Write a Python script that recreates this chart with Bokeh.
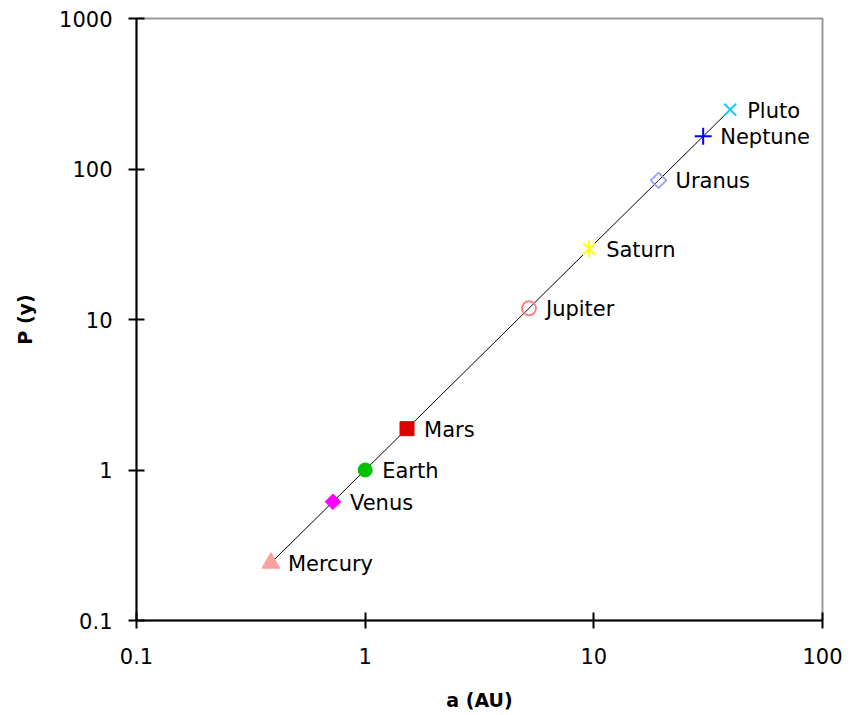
from bokeh.plotting import figure
from bokeh.models import ColumnDataSource, FixedTicker, Range1d
from bokeh.embed import file_html
from bokeh.resources import INLINE
from bokeh.core.properties import value
import math

planets = ["Mercury", "Venus", "Earth", "Mars", "Jupiter", "Saturn", "Uranus", "Neptune", "Pluto"]
a_au = [0.387, 0.723, 1.0, 1.524, 5.203, 9.537, 19.19, 30.07, 39.48]
p_yr = [0.241, 0.615, 1.0, 1.881, 11.86, 29.46, 84.01, 164.8, 248.0]
markers = ["triangle", "square", "circle", "square", "circle", "x", "square", "cross", "x"]
angles = [0, 45, 0, 0, 0, 0, 45, 0, 0]
colors = ["#ffa0a0", "#ff00ff", "#00c000", "#dd0000", "#ff8080", "#ffff00", "#a0a0ff", "#0000ff", "#00ccff"]
filled = [True, True, True, True, False, False, False, False, False]
x_ticks = [0.1, 1, 10, 100]
y_ticks = [0.1, 1, 10, 100, 1000]

FONT = "DejaVu Sans"

p = figure(width=850, height=712, x_axis_type="log", y_axis_type="log",
           x_range=Range1d(0.1, 100), y_range=Range1d(0.1, 1000),
           output_backend="svg", toolbar_location=None,
           min_border_left=136, min_border_right=28, min_border_top=18, min_border_bottom=92)
p.frame_width = 686
p.frame_height = 602

p.xgrid.visible = False
p.ygrid.visible = False
p.outline_line_color = "#999999"
p.outline_line_width = 2

for ax, ticks in ((p.xaxis[0], x_ticks), (p.yaxis[0], y_ticks)):
    ax.ticker = FixedTicker(ticks=ticks, minor_ticks=[])
    ax.major_label_overrides = {t: (str(t) if t < 1 else str(int(t))) for t in ticks}
    ax.axis_line_width = 2
    ax.axis_line_color = "black"
    ax.major_tick_line_width = 2
    ax.major_tick_in = 8
    ax.major_tick_out = 8
    ax.minor_tick_line_color = None
    ax.major_label_text_font = FONT
    ax.major_label_text_font_size = "21px"
    ax.major_label_text_color = "black"
    ax.axis_label_text_font = FONT
    ax.axis_label_text_font_size = "19px"
    ax.axis_label_text_font_style = "bold"
    ax.axis_label_text_color = "black"

p.xaxis.axis_label = "a (AU)"
p.yaxis.axis_label = "P (y)"
p.xaxis.major_label_standoff = 19
p.yaxis.major_label_standoff = 16
p.xaxis.axis_label_standoff = 22
p.yaxis.axis_label_standoff = 20

p.line(a_au, p_yr, line_color="black", line_width=1)

for name, a, pp, m, ang, c, f in zip(planets, a_au, p_yr, markers, angles, colors, filled):
    src = ColumnDataSource(dict(x=[a], y=[pp], t=[name]))
    if m in ("x", "cross"):
        size = 17
    elif m == "triangle":
        size = 18
    elif ang:
        size = 11
    else:
        size = 14
    p.scatter("x", "y", source=src, marker=m, size=size, angle=math.radians(ang),
              fill_color=c if f else None, line_color=c,
              line_width=2 if not f else 1)
    if name == "Saturn":
        p.scatter("x", "y", source=src, marker="dash", size=17, angle=math.pi / 2,
                  line_color=c, line_width=2)
    p.text("x", "y", text="t", source=src, x_offset=17, y_offset=1,
           text_font=value(FONT), text_font_size="21px", text_color="black",
           text_baseline="middle", text_align="left")

open("out.html", "w").write(file_html(p, INLINE))
